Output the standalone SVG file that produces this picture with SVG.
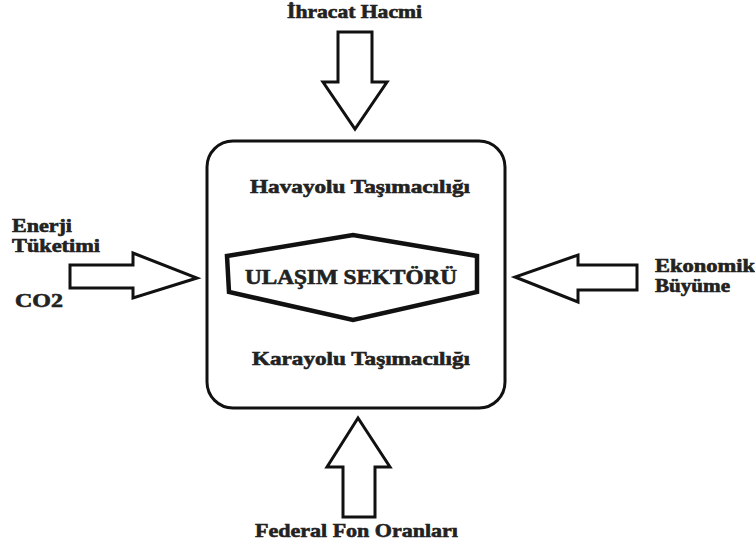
<svg xmlns="http://www.w3.org/2000/svg" width="755" height="545" viewBox="0 0 755 545">
<style>
text{font-family:'Liberation Serif',serif;font-weight:bold;fill:#222;stroke:#222;stroke-width:0.6;}
.arrow{fill:#fff;stroke:#111;stroke-width:3;stroke-linejoin:miter;}
</style>
<rect width="755" height="545" fill="#fff"/>
<g id="sector-box">
<rect x="207" y="141" width="298" height="267" rx="26" ry="26" fill="#fff" stroke="#111" stroke-width="3"/>
<text x="250" y="193" font-size="19" textLength="220" lengthAdjust="spacingAndGlyphs">Havayolu Taşımacılığı</text>
<text x="252" y="365" font-size="19" textLength="218" lengthAdjust="spacingAndGlyphs">Karayolu Taşımacılığı</text>
</g>
<g id="core">
<polygon points="227,256 353,235 477,256 477,292 353,320 229,292" fill="#fff" stroke="#111" stroke-width="4.5" stroke-linejoin="miter"/>
<text x="245" y="284" font-size="20" textLength="212" lengthAdjust="spacingAndGlyphs">ULAŞIM SEKTÖRÜ</text>
</g>
<g id="ihracat">
<text x="287" y="18" font-size="18" textLength="135" lengthAdjust="spacingAndGlyphs">İhracat Hacmi</text>
</g>
<g id="enerji">
<text x="12" y="232" font-size="18" textLength="60" lengthAdjust="spacingAndGlyphs">Enerji</text>
<text x="12" y="252" font-size="18" textLength="88" lengthAdjust="spacingAndGlyphs">Tüketimi</text>
</g>
<g id="co2">
<text x="15" y="307" font-size="19" textLength="48" lengthAdjust="spacingAndGlyphs">CO2</text>
</g>
<g id="ekonomik">
<text x="655" y="272" font-size="18" textLength="100" lengthAdjust="spacingAndGlyphs">Ekonomik</text>
<text x="655" y="292" font-size="18" textLength="75" lengthAdjust="spacingAndGlyphs">Büyüme</text>
</g>
<g id="federal">
<text x="255" y="537" font-size="19" textLength="203" lengthAdjust="spacingAndGlyphs">Federal Fon Oranları</text>
</g>
<g id="connectors">
<polygon class="arrow" points="338,32 372,32 372,82 387,82 355,129 323,82 338,82"/>
<polygon class="arrow" points="343,517 375,517 375,467 390,467 358,418 327,467 343,467"/>
<polygon class="arrow" points="70,265 133,265 133,253 197,278 133,298 133,288 70,288"/>
<polygon class="arrow" points="637,265 578,265 578,255 515,277 578,302 578,290 637,290"/>
</g>
</svg>
